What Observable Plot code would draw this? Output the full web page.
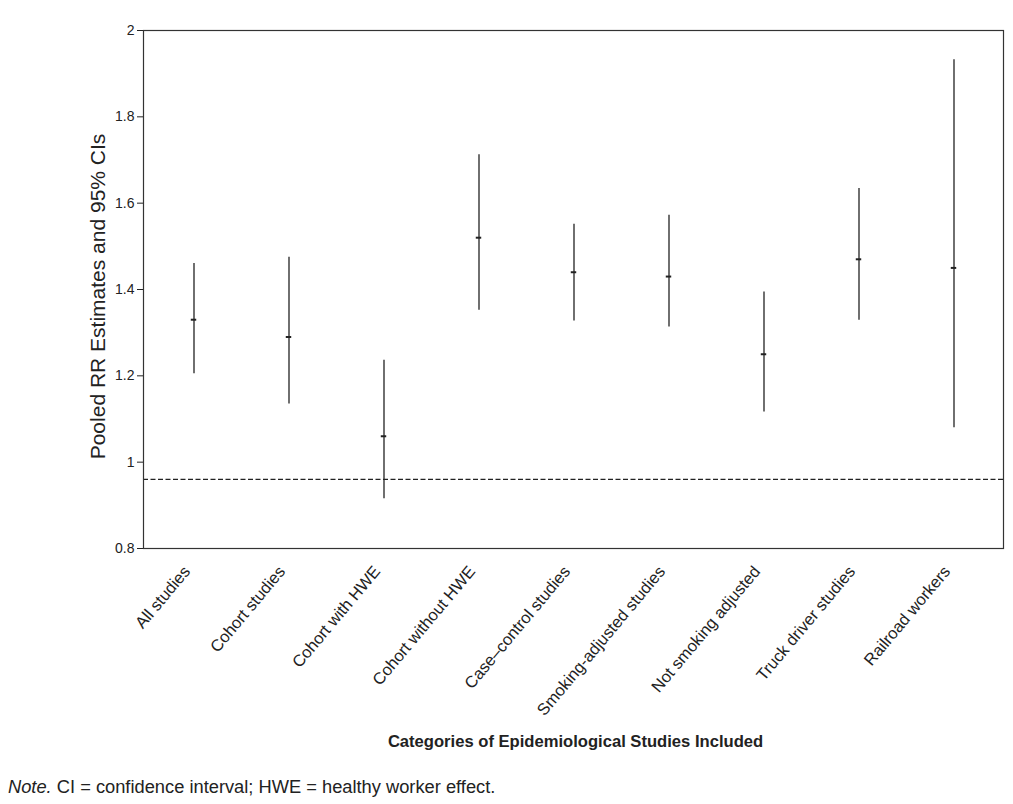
<!DOCTYPE html>
<html>
<head>
<meta charset="utf-8">
<script src="https://cdn.jsdelivr.net/npm/d3@7"></script>
<script src="https://cdn.jsdelivr.net/npm/@observablehq/plot@0.6"></script>
<style>
  body { margin: 0; background: #fff; }
  #chart { width: 1013px; }
  #note {
    font-family: "Liberation Sans", Arial, sans-serif;
    font-size: 18.3px;
    color: #222;
    margin-top: 12px;
    padding-left: 8px;
    white-space: nowrap;
  }
</style>
</head>
<body>
<div id="chart"></div>
<div id="note"><i>Note.</i> CI = confidence interval; HWE = healthy worker effect.</div>
<script>
// ---- data ----
const categories = [
  "All studies",
  "Cohort studies",
  "Cohort with HWE",
  "Cohort without HWE",
  "Case\u2013control studies",
  "Smoking-adjusted studies",
  "Not smoking adjusted",
  "Truck driver studies",
  "Railroad workers"
];
const estimates = [1.33, 1.29, 1.06, 1.52, 1.44, 1.43, 1.25, 1.47, 1.45];
const lowerCI   = [1.205, 1.135, 0.915, 1.352, 1.327, 1.313, 1.116, 1.329, 1.08];
const upperCI   = [1.46, 1.475, 1.236, 1.712, 1.551, 1.572, 1.394, 1.634, 1.932];
const referenceValue = [0.96];
const yTicks = [0.8, 1, 1.2, 1.4, 1.6, 1.8, 2];
const yTickLabels = ["0.8", "1", "1.2", "1.4", "1.6", "1.8", "2"];
const yTitle = "Pooled RR Estimates and 95% CIs";
const xTitle = "Categories of Epidemiological Studies Included";

const rows = categories.map((c, i) => ({
  category: c, est: estimates[i], lo: lowerCI[i], hi: upperCI[i]
}));

const W = 1013, H = 764;
const mLeft = 143, mRight = 10, mTop = 30, mBottom = H - 548;
const bandW = (W - mLeft - mRight) / categories.length;

const chart = Plot.plot({
  width: W,
  height: H,
  marginLeft: mLeft,
  marginRight: mRight,
  marginTop: mTop,
  marginBottom: mBottom,
  style: { fontFamily: "'Liberation Sans', Arial, sans-serif", color: "#222", background: "#fff" },
  x: { domain: categories, padding: 0, axis: null },
  y: { domain: [0.8, 2], axis: null },
  marks: [
    Plot.ruleY(referenceValue, { stroke: "#222", strokeWidth: 1.2, strokeDasharray: "5,2.5" }),
    Plot.ruleX(rows, { x: "category", y1: "lo", y2: "hi", stroke: "#222", strokeWidth: 1.3 }),
    Plot.tickY(rows, { x: "category", y: "est", stroke: "#222", strokeWidth: 2,
      insetLeft: (bandW - 6) / 2, insetRight: (bandW - 6) / 2 }),
    Plot.frame({ stroke: "#333", strokeWidth: 1.2 }),
    Plot.axisY({
      ticks: yTicks,
      tickFormat: d => yTickLabels[yTicks.indexOf(d)],
      tickSize: 6, tickPadding: 3,
      fontSize: 14, label: null
    }),
    Plot.axisX({
      tickSize: 0, tickPadding: 20, tickRotate: -50, dx: -7,
      fontSize: 16.5, label: null
    }),
    Plot.text([yTitle], {
      frameAnchor: "left", textAnchor: "middle", dx: -45, dy: 7, rotate: -90,
      fontSize: 21, fill: "#222"
    }),
    Plot.text([xTitle], {
      frameAnchor: "bottom", dx: 2, dy: 198,
      fontSize: 16.6, fontWeight: "bold", fill: "#222"
    })
  ]
});
document.getElementById("chart").appendChild(chart);
</script>
</body>
</html>
